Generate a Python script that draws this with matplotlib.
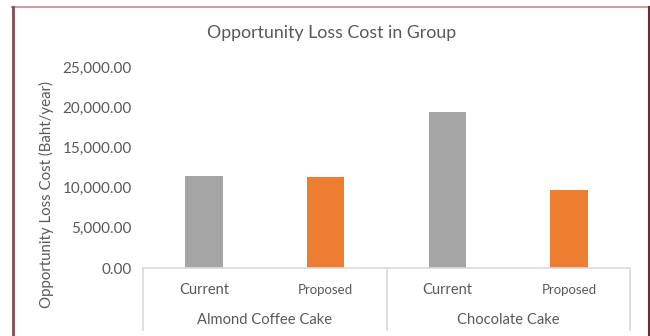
import matplotlib
matplotlib.use("Agg")
import matplotlib.pyplot as plt
from matplotlib.lines import Line2D
from matplotlib.ticker import FuncFormatter
import numpy as np

# ── Data ──────────────────────────────────────────────────────────────────────
GROUPS = ["Almond Coffee Cake", "Chocolate Cake"]
SCENARIOS = ["Current", "Proposed"]
CURRENT = [11480, 19400]
PROPOSED = [11280, 9700]
Y_TICKS = [0, 5000, 10000, 15000, 20000, 25000]

COLORS = {"Current": "#A5A5A5", "Proposed": "#ED7D31"}
TEXT = "#595959"
GRID = "#D9D9D9"

plt.rcParams["font.family"] = ["Lato", "DejaVu Sans"]

W, H = 650, 336
fig = plt.figure(figsize=(W / 100, H / 100), dpi=100)
fig.patch.set_facecolor("white")

# plot area in pixels (left, top, right, bottom)
L, T, R, B = 143, 67, 630, 268
ax = fig.add_axes([L / W, 1 - B / H, (R - L) / W, (B - T) / H])

values = []
colors = []
for cur, prop in zip(CURRENT, PROPOSED):
    values += [cur, prop]
    colors += [COLORS["Current"], COLORS["Proposed"]]
x = np.arange(len(values)) + 0.5
ax.bar(x, values, width=0.31, color=colors, zorder=2)

ax.set_xlim(0, len(values))
ax.set_ylim(0, 25000)
ax.set_yticks(Y_TICKS)
ax.yaxis.set_major_formatter(FuncFormatter(lambda v, _: f"{v:,.2f}"))
ax.tick_params(axis="y", length=0, pad=8, labelsize=11, labelcolor=TEXT)
ax.tick_params(axis="x", length=0, labelbottom=False)
for side in ("top", "right", "left"):
    ax.spines[side].set_visible(False)
ax.spines["bottom"].set_color(GRID)
ax.spines["bottom"].set_linewidth(1.2)

# two-level category axis drawn below the plot area
ph = B - T
box_bottom = -(330 - B) / ph
trans = ax.get_xaxis_transform()
for xv in (0, 2, 4):
    ax.add_line(Line2D([xv, xv], [0, box_bottom], transform=trans,
                       color=GRID, lw=1.2, clip_on=False))
for i, xv in enumerate(x):
    name = SCENARIOS[i % 2]
    ax.text(xv, -(290 - B) / ph, name, transform=trans, ha="center",
            va="center", fontsize=10.5 if name == "Current" else 9.5, color=TEXT)
for g, name in enumerate(GROUPS):
    ax.text(2 * g + 1, -(320 - B) / ph, name, transform=trans, ha="center",
            va="center", fontsize=10.6, color=TEXT)

fig.text(332 / W, 1 - 33 / H, "Opportunity Loss Cost in Group",
         ha="center", va="center", fontsize=12.8, color=TEXT)
fig.text(46 / W, 1 - 195 / H, "Opportunity Loss Cost (Baht/year)",
         ha="center", va="center", rotation=90, fontsize=10.8, color=TEXT)

# outer frame
fig.add_artist(Line2D([12 / W, 1], [1 - 6.5 / H] * 2, color="#C9A0A3", lw=1.5))
fig.add_artist(Line2D([13 / W] * 2, [0, 1 - 6.5 / H], color="#8B4A52", lw=2))
fig.add_artist(Line2D([649 / W] * 2, [0, 1 - 6.5 / H], color="#6B2A35", lw=1.5))

fig.savefig("out.png", dpi=100)
